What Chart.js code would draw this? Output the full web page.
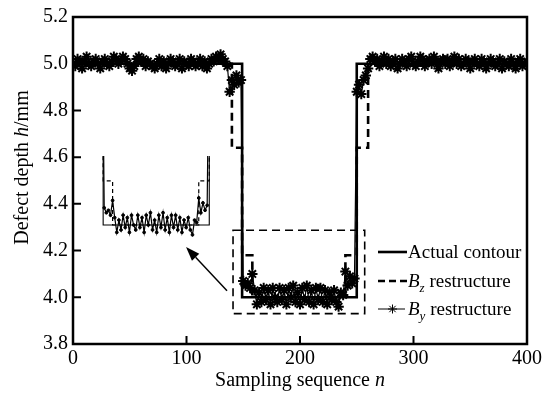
<!DOCTYPE html>
<html><head><meta charset="utf-8">
<script src="https://cdn.jsdelivr.net/npm/chart.js@4/dist/chart.umd.min.js"></script>
<style>
html,body{margin:0;padding:0;background:#fff;}
#wrap{position:relative;width:545px;height:394px;background:#fff;}
#main{position:absolute;left:0;top:0;}
#insetBox{position:absolute;}
</style></head><body>
<div id="wrap"><canvas id="main" width="545" height="394"></canvas><div id="insetBox"><canvas id="inset"></canvas></div></div>
<script>
// ---------- data ----------
const xTicks = [0, 100, 200, 300, 400];
const yTicks = [3.8, 4.0, 4.2, 4.4, 4.6, 4.8, 5.0, 5.2];

// Actual contour
const contourN = [0, 149, 149, 250, 250, 400];
const contourH = [5.0, 5.0, 4.0, 4.0, 5.0, 5.0];

// Bz restructure
const bzN = [0, 140, 140, 149, 149, 158, 158, 240, 240, 250, 250, 260, 260, 400];
const bzH = [5.0, 5.0, 4.64, 4.64, 4.18, 4.18, 4.0, 4.0, 4.18, 4.18, 4.64, 4.64, 5.0, 5.0];

// By restructure, sampled every BY_STEP from BY_START
const BY_START = 0, BY_STEP = 2;
const byHighLeft = [ // n = 0 .. 148
  5.00, 4.99, 5.02, 5.01, 4.98, 5.01, 5.03, 5.00, 4.99, 5.01,
  5.02, 5.00, 4.98, 5.01, 5.02, 5.00, 4.99, 5.01, 5.03, 5.02,
  5.00, 5.01, 5.03, 5.02, 5.00, 4.98, 4.97, 4.99, 5.02, 5.03,
  5.01, 5.02, 4.99, 5.01, 5.00, 4.99, 4.98, 5.00, 5.02, 4.99,
  5.01, 4.98, 5.00, 5.02, 5.01, 4.99, 5.00, 5.02, 4.98, 5.01,
  5.00, 4.99, 5.02, 5.01, 4.99, 5.00, 5.02, 4.99, 5.01, 4.98,
  5.00, 5.02, 5.01, 5.03, 5.02, 5.04, 5.02, 5.01, 4.99, 4.88,
  4.93, 4.91, 4.95, 4.92, 4.93
];
const byLow = [ // n = 150 .. 248
  4.07, 4.05, 4.06, 4.04, 4.10, 4.03, 3.97, 4.02, 3.98, 4.04,
  3.99, 4.03, 3.97, 4.04, 4.00, 3.98, 4.04, 3.99, 4.03, 3.97,
  4.04, 4.00, 4.05, 3.98, 4.02, 3.97, 4.04, 3.99, 4.05, 3.98,
  4.03, 3.97, 4.04, 3.99, 4.04, 3.98, 4.03, 3.97, 4.02, 3.99,
  4.03, 3.98, 3.96, 4.02, 4.01, 4.11, 4.05, 4.09, 4.06, 4.08
];
const byHighRight = [ // n = 250 .. 400
  4.88, 4.91, 4.87, 4.93, 4.95, 4.98, 5.02, 5.03, 5.01, 5.02,
  4.99, 5.01, 5.03, 5.00, 5.02, 4.99, 5.01, 5.02, 4.98, 5.00,
  5.02, 5.01, 4.99, 5.02, 5.03, 5.00, 4.99, 5.01, 5.03, 5.02,
  4.99, 5.01, 5.02, 5.00, 5.03, 5.01, 4.98, 5.01, 5.02, 5.00,
  5.02, 4.99, 5.01, 5.03, 5.00, 5.02, 4.99, 5.00, 5.02, 5.01,
  4.98, 5.01, 5.02, 5.00, 4.99, 5.02, 5.01, 4.98, 5.00, 5.02,
  5.01, 4.99, 5.00, 5.02, 4.98, 5.01, 5.00, 4.99, 5.02, 5.00,
  4.98, 5.01, 5.02, 4.99, 5.00, 5.01
];
const byH = byHighLeft.concat(byLow, byHighRight);

// annotation (in data units)
const zoomBox = {n0: 141, n1: 257, h0: 3.93, h1: 4.287};
const arrow = {n0: 135.7, h0: 4.028, n1: 99.6, h1: 4.215};
const insetFrame = {n0: 19.4, n1: 126.9, h0: 4.223, h1: 4.626};
const insetView = {n0: 146, n1: 252.6, h0: 3.939, h1: 4.281};

// ---------- build ----------
const pts = (xs, ys) => xs.map((v, i) => ({x: v, y: ys[i]}));
const contourPts = pts(contourN, contourH);
const bzPts = pts(bzN, bzH);
const byPts = byH.map((v, i) => ({x: BY_START + i * BY_STEP, y: v}));

const FONT = 'Liberation Serif';

function drawSegs(ctx, segs, x, y, align) {
  let w = 0;
  segs.forEach(s => { ctx.font = (s[1] ? 'italic ' : '') + s[2] + 'px "' + FONT + '"'; w += ctx.measureText(s[0]).width; });
  let cx = align === 'center' ? x - w / 2 : x;
  segs.forEach(s => {
    ctx.font = (s[1] ? 'italic ' : '') + s[2] + 'px "' + FONT + '"';
    ctx.fillText(s[0], cx, y + (s[3] || 0));
    cx += ctx.measureText(s[0]).width;
  });
}

const deco = {
  id: 'deco',
  afterDraw(chart) {
    const {ctx, chartArea: a, scales: {x, y}} = chart;
    ctx.save();
    ctx.strokeStyle = '#000'; ctx.fillStyle = '#000';
    ctx.lineWidth = 2.5;
    ctx.strokeRect(a.left, a.top, a.right - a.left, a.bottom - a.top);
    ctx.lineWidth = 2;
    ctx.beginPath();
    xTicks.slice(1, -1).forEach(v => { const p = x.getPixelForValue(v); ctx.moveTo(p, a.bottom); ctx.lineTo(p, a.bottom - 8); });
    yTicks.slice(1, -1).forEach(v => { const p = y.getPixelForValue(v); ctx.moveTo(a.left, p); ctx.lineTo(a.left + 8, p); });
    ctx.stroke();
    ctx.lineWidth = 1.6; ctx.setLineDash([8, 5]);
    const bx0 = x.getPixelForValue(zoomBox.n0), bx1 = x.getPixelForValue(zoomBox.n1);
    const by0 = y.getPixelForValue(zoomBox.h1), by1 = y.getPixelForValue(zoomBox.h0);
    ctx.strokeRect(bx0, by0, bx1 - bx0, by1 - by0);
    ctx.setLineDash([]);
    const ax0 = x.getPixelForValue(arrow.n0), ay0 = y.getPixelForValue(arrow.h0);
    const ax1 = x.getPixelForValue(arrow.n1), ay1 = y.getPixelForValue(arrow.h1);
    const ang = Math.atan2(ay1 - ay0, ax1 - ax0);
    const L = 14, W = 5;
    const bxA = ax1 - L * Math.cos(ang), byA = ay1 - L * Math.sin(ang);
    ctx.lineWidth = 1.5;
    ctx.beginPath(); ctx.moveTo(ax0, ay0); ctx.lineTo(bxA, byA); ctx.stroke();
    ctx.beginPath();
    ctx.moveTo(ax1, ay1);
    ctx.lineTo(bxA + W * Math.sin(ang), byA - W * Math.cos(ang));
    ctx.lineTo(bxA - W * Math.sin(ang), byA + W * Math.cos(ang));
    ctx.closePath(); ctx.fill();
    const lx0 = a.right - 149, lx1 = a.right - 120, tx = a.right - 119;
    const rows = [a.bottom - 92, a.bottom - 63, a.bottom - 35];
    ctx.lineWidth = 2.6;
    ctx.beginPath(); ctx.moveTo(lx0, rows[0]); ctx.lineTo(lx1, rows[0]); ctx.stroke();
    ctx.setLineDash([7, 4]);
    ctx.beginPath(); ctx.moveTo(lx0, rows[1]); ctx.lineTo(lx1, rows[1]); ctx.stroke();
    ctx.setLineDash([]);
    ctx.lineWidth = 1;
    ctx.beginPath(); ctx.moveTo(lx0, rows[2]); ctx.lineTo(lx1 - 2, rows[2]); ctx.stroke();
    Chart.helpers.drawPoint(ctx, {pointStyle: 'star', radius: 4.5, borderWidth: 1.6}, (lx0 + lx1) / 2, rows[2]);
    ctx.textAlign = 'left'; ctx.textBaseline = 'alphabetic';
    drawSegs(ctx, [['Actual contour', false, 19]], tx, rows[0] + 6, 'left');
    drawSegs(ctx, [['B', true, 19], ['z', true, 13, 5], [' restructure', false, 19]], tx, rows[1] + 6, 'left');
    drawSegs(ctx, [['B', true, 19], ['y', true, 13, 5], [' restructure', false, 19]], tx, rows[2] + 6, 'left');
    drawSegs(ctx, [['Sampling sequence ', false, 20], ['n', true, 20]], (a.left + a.right) / 2, a.bottom + 42, 'center');
    ctx.translate(a.left - 45, (a.top + a.bottom) / 2 - 13);
    ctx.rotate(-Math.PI / 2);
    drawSegs(ctx, [['Defect depth ', false, 20], ['h', true, 20], ['/mm', false, 20]], 0, 0, 'center');
    ctx.restore();
  }
};

const tickFont = {family: FONT, size: 20};
const main = new Chart(document.getElementById('main'), {
  type: 'line',
  data: {datasets: [
    {label: 'By restructure', data: byPts, borderColor: '#000', borderWidth: 1.2, pointStyle: 'star',
     pointRadius: 5.2, pointBorderWidth: 2, pointBorderColor: '#000', pointBackgroundColor: '#000', order: 3},
    {label: 'Bz restructure', data: bzPts, borderColor: '#000', borderWidth: 2.6, borderDash: [8, 5], pointRadius: 0, order: 2},
    {label: 'Actual contour', data: contourPts, borderColor: '#000', borderWidth: 2.6, pointRadius: 0, order: 1}
  ]},
  options: {
    responsive: false, animation: false,
    layout: {padding: {left: 0, right: 18, top: 14, bottom: 0}},
    plugins: {legend: {display: false}, tooltip: {enabled: false}},
    scales: {
      x: {type: 'linear', min: 0, max: 400,
          ticks: {stepSize: 100, color: '#000', font: tickFont, padding: 3, maxRotation: 0},
          grid: {display: false, drawTicks: false}, border: {display: false},
          afterFit: s => { s.height = 50; }},
      y: {type: 'linear', min: 3.8, max: 5.2,
          ticks: {stepSize: 0.2, color: '#000', font: tickFont, padding: 5, callback: v => v.toFixed(1)},
          grid: {display: false, drawTicks: false}, border: {display: false},
          afterFit: s => { s.width = 73; }}
    }
  },
  plugins: [deco]
});

// ---------- inset ----------
const mx = main.scales.x, my = main.scales.y;
const il = Math.round(mx.getPixelForValue(insetFrame.n0)), ir = Math.round(mx.getPixelForValue(insetFrame.n1));
const it = Math.round(my.getPixelForValue(insetFrame.h1)), ib = Math.round(my.getPixelForValue(insetFrame.h0));
const box = document.getElementById('insetBox');
box.style.left = il + 'px'; box.style.top = it + 'px';
const ic = document.getElementById('inset');
ic.width = ir - il; ic.height = ib - it;
ic.style.width = (ir - il) + 'px'; ic.style.height = (ib - it) + 'px';
new Chart(ic, {
  type: 'line',
  data: {datasets: [
    {data: byPts, borderColor: '#000', borderWidth: 1.2, pointStyle: 'circle', pointRadius: 1.4,
     pointBorderWidth: 1, pointBorderColor: '#000', pointBackgroundColor: '#000', order: 3},
    {data: bzPts, borderColor: '#000', borderWidth: 1.2, borderDash: [4, 3], pointRadius: 0, order: 2},
    {data: contourPts, borderColor: '#000', borderWidth: 1.1, pointRadius: 0, order: 1}
  ]},
  options: {
    responsive: false, animation: false, devicePixelRatio: 1,
    layout: {padding: 0},
    plugins: {legend: {display: false}, tooltip: {enabled: false}},
    scales: {
      x: {type: 'linear', display: false, min: insetView.n0, max: insetView.n1},
      y: {type: 'linear', display: false, min: insetView.h0, max: insetView.h1}
    }
  }
});
</script>
</body></html>
